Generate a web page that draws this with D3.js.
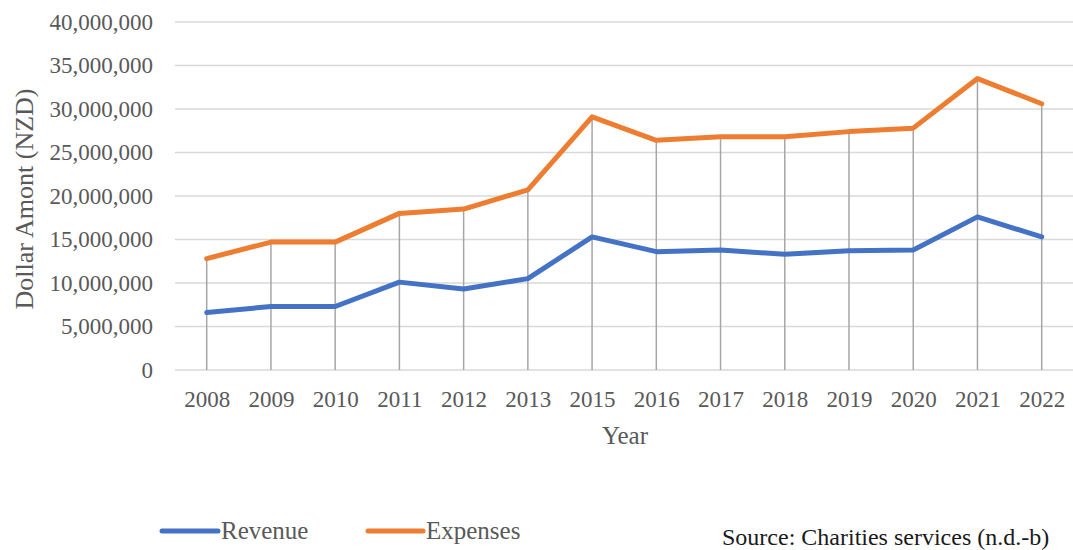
<!DOCTYPE html>
<html>
<head>
<meta charset="utf-8">
<script src="https://cdn.jsdelivr.net/npm/d3@7/dist/d3.min.js"></script>
<style>
  html, body { margin: 0; padding: 0; background: #fff; }
  svg { display: block; }
  text { font-family: "Liberation Serif", "Times New Roman", serif; }
</style>
</head>
<body>
<svg id="chart" width="1073" height="550"></svg>
<script>
// Annual totals, NZD
const years = ["2008", "2009", "2010", "2011", "2012", "2013", "2015",
               "2016", "2017", "2018", "2019", "2020", "2021", "2022"];
const revenue = [6600000, 7300000, 7300000, 10100000, 9300000, 10500000, 15300000,
                 13600000, 13800000, 13300000, 13700000, 13800000, 17600000, 15300000];
const expenses = [12800000, 14700000, 14700000, 18000000, 18500000, 20700000, 29100000,
                  26400000, 26800000, 26800000, 27400000, 27800000, 33500000, 30600000];
const yTicks = [0, 5000000, 10000000, 15000000, 20000000, 25000000, 30000000, 35000000, 40000000];

const seriesList = [
  { name: "Revenue", values: revenue, color: "#4472C4" },
  { name: "Expenses", values: expenses, color: "#ED7D31" }
];

const svg = d3.select("#chart");
const textColor = "#595959";

const plotLeft = 175, plotRight = 1073;
const x = d3.scalePoint().domain(years).range([206.7, 1041.7]);
const y = d3.scaleLinear().domain([0, 40000000]).range([370, 22]);

// horizontal gridlines
svg.append("g")
  .selectAll("line")
  .data(yTicks)
  .join("line")
  .attr("x1", plotLeft).attr("x2", plotRight)
  .attr("y1", d => y(d)).attr("y2", d => y(d))
  .attr("stroke", "#d9d9d9")
  .attr("stroke-width", 1.5);

// drop lines from the highest point of each year to the baseline
svg.append("g")
  .selectAll("line")
  .data(years)
  .join("line")
  .attr("x1", d => x(d)).attr("x2", d => x(d))
  .attr("y1", (d, i) => y(d3.max(seriesList, s => s.values[i])))
  .attr("y2", y(0))
  .attr("stroke", "#a6a6a6")
  .attr("stroke-width", 1.5);

// y axis labels
const yAxis = svg.append("g")
  .attr("transform", `translate(${plotLeft},0)`)
  .call(d3.axisLeft(y).tickValues(yTicks).tickFormat(d3.format(",")).tickSize(0).tickPadding(22));
yAxis.select(".domain").remove();
yAxis.selectAll("text")
  .attr("fill", textColor)
  .style("font-size", "23px")
  .style("font-family", "'Liberation Serif', 'Times New Roman', serif");

// x axis labels
const xAxis = svg.append("g")
  .attr("transform", `translate(0,${y(0)})`)
  .call(d3.axisBottom(x).tickSize(0).tickPadding(21));
xAxis.select(".domain").remove();
xAxis.selectAll("text")
  .attr("fill", textColor)
  .style("font-size", "23px")
  .style("font-family", "'Liberation Serif', 'Times New Roman', serif");

// series lines
const line = d3.line()
  .x((d, i) => x(years[i]))
  .y(d => y(d));

svg.append("g")
  .selectAll("path")
  .data(seriesList)
  .join("path")
  .attr("d", s => line(s.values))
  .attr("fill", "none")
  .attr("stroke", s => s.color)
  .attr("stroke-width", 5)
  .attr("stroke-linejoin", "round")
  .attr("stroke-linecap", "round");

// axis titles
svg.append("text")
  .attr("transform", "translate(33,199) rotate(-90)")
  .attr("text-anchor", "middle")
  .attr("fill", textColor)
  .style("font-size", "26px")
  .text("Dollar Amont (NZD)");

svg.append("text")
  .attr("x", 625).attr("y", 444)
  .attr("text-anchor", "middle")
  .attr("fill", textColor)
  .style("font-size", "25px")
  .text("Year");

// legend
const legendItems = [
  { series: seriesList[0], x1: 162, x2: 218 },
  { series: seriesList[1], x1: 368, x2: 423 }
];
const legend = svg.append("g");
legend.selectAll("line")
  .data(legendItems)
  .join("line")
  .attr("x1", d => d.x1).attr("x2", d => d.x2)
  .attr("y1", 531).attr("y2", 531)
  .attr("stroke", d => d.series.color)
  .attr("stroke-width", 5)
  .attr("stroke-linecap", "round");
legend.selectAll("text")
  .data(legendItems)
  .join("text")
  .attr("x", d => d.x2 + 3)
  .attr("y", 539)
  .attr("fill", textColor)
  .style("font-size", "25px")
  .text(d => d.series.name);

// source note
svg.append("text")
  .attr("x", 722).attr("y", 545)
  .attr("fill", "#1a1a1a")
  .style("font-size", "24px")
  .text("Source: Charities services (n.d.-b)");
</script>
</body>
</html>
